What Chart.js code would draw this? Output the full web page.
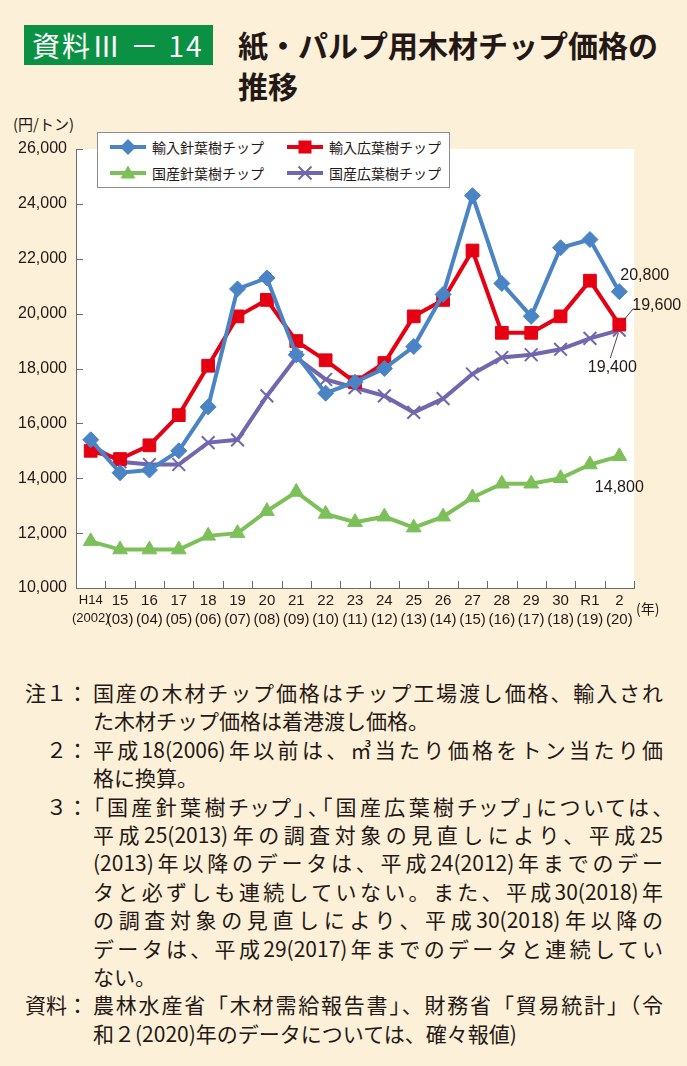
<!DOCTYPE html>
<html lang="ja">
<head>
<meta charset="utf-8">
<title>紙・パルプ用木材チップ価格の推移</title>
<script src="https://cdn.jsdelivr.net/npm/chart.js@4.4.1/dist/chart.umd.min.js"></script>
<style>
  html, body { margin: 0; padding: 0; }
  body {
    width: 687px; height: 1066px; position: relative; overflow: hidden;
    background: #fdf0d8; color: #231815;
    font-family: "Noto Sans CJK JP", sans-serif;
  }
  .badge {
    position: absolute; left: 24px; top: 25px; width: 189px; height: 40px;
    background: #0b9143; color: #fff; box-sizing: border-box; padding-left: 8px;
    font-size: 28px; line-height: 40px; letter-spacing: 2px; white-space: pre;
  }
  .title { position: absolute; left: 238px; top: 24px; font-size: 30px; font-weight: 700; line-height: 41px; }
  .unit { position: absolute; left: 13px; top: 113px; font-size: 15px; }
  #wrap { position: absolute; left: 0; top: 100px; width: 687px; height: 560px; }
  .legend {
    position: absolute; left: 97px; top: 132px; width: 353px; height: 56px;
    background: #fff; border: 1px solid #8c8c8c; box-sizing: border-box;
  }
  .item { position: absolute; display: flex; align-items: center; font-size: 14px; line-height: 18px; height: 18px; }
  .item svg { margin-right: 6px; }
  .nen { position: absolute; left: 636px; top: 598px; font-size: 14px; }
  .notes { position: absolute; left: 0; top: 678px; font-size: 21px; }
  .row { position: relative; height: 28.4px; line-height: 28.4px; }
  .lab { position: absolute; left: 0; width: 88px; text-align: right; }
  .txt { position: absolute; left: 93px; width: 570px; white-space: nowrap; }
  .full { text-align: justify; text-align-last: justify; white-space: normal; }
  .palt { font-feature-settings: "palt"; }
</style>
</head>
<body>
<div class="badge">資料Ⅲ － 14</div>
<div class="title">紙・パルプ用木材チップ価格の<br>推移</div>
<div class="unit">(円/トン)</div>
<div id="wrap"><canvas id="lineChart"></canvas></div>
<div class="legend" id="legend"></div>
<div class="nen">(年)</div>
<div class="notes" id="notes"></div>

<script>
// 年（和暦）と西暦
const years = ['H14', '15', '16', '17', '18', '19', '20', '21', '22', '23',
  '24', '25', '26', '27', '28', '29', '30', 'R1', '2'];
const westernYears = ['(2002)', '(03)', '(04)', '(05)', '(06)', '(07)', '(08)', '(09)', '(10)', '(11)',
  '(12)', '(13)', '(14)', '(15)', '(16)', '(17)', '(18)', '(19)', '(20)'];

// 円/トン
const importedSoftwood = [15400, 14200, 14300, 15000, 16600, 20900, 21300, 18500, 17100, 17500,
  18000, 18800, 20700, 24300, 21100, 19900, 22400, 22700, 20800];
const importedHardwood = [15000, 14700, 15200, 16300, 18100, 19900, 20500, 19000, 18300, 17500,
  18200, 19900, 20500, 22300, 19300, 19300, 19900, 21200, 19600];
const domesticSoftwood = [11700, 11400, 11400, 11400, 11900, 12000, 12800, 13500, 12700, 12400,
  12600, 12200, 12600, 13300, 13800, 13800, 14000, 14500, 14800];
const domesticHardwood = [15200, 14600, 14500, 14500, 15300, 15400, 17000, 18400, 17600, 17300,
  17000, 16400, 16900, 17800, 18400, 18500, 18700, 19100, 19400];

const seriesNames = ['輸入針葉樹チップ', '輸入広葉樹チップ', '国産針葉樹チップ', '国産広葉樹チップ'];
const yMin = 10000, yMax = 26000, yStep = 2000;

const colors = ['#4a84c4', '#e50012', '#7dc05a', '#7266ae'];
const styles = ['rectRot', 'rect', 'triangle', 'crossRot'];
const radii = [8, 9, 8.5, 9];

// [見出し, 本文, 両端揃え, 約物詰め]
const notes = [
  ['注１：', '国産の木材チップ価格はチップ工場渡し価格、輸入され', true, false],
  ['', 'た木材チップ価格は着港渡し価格。', false, false],
  ['２：', '平成18(2006)年以前は、㎥当たり価格をトン当たり価', true, false],
  ['', '格に換算。', false, false],
  ['３：', '「国産針葉樹チップ」、「国産広葉樹チップ」については、', true, true],
  ['', '平成25(2013)年の調査対象の見直しにより、平成25', true, false],
  ['', '(2013)年以降のデータは、平成24(2012)年までのデー', true, false],
  ['', 'タと必ずしも連続していない。また、平成30(2018)年', true, false],
  ['', 'の調査対象の見直しにより、平成30(2018)年以降の', true, false],
  ['', 'データは、平成29(2017)年までのデータと連続してい', true, false],
  ['', 'ない。', false, false],
  ['資料：', '農林水産省「木材需給報告書」、財務省「貿易統計」（令', true, false],
  ['', '和２(2020)年のデータについては、確々報値)', false, false]
];

document.getElementById('notes').innerHTML = notes.map(n =>
  `<div class="row"><span class="lab">${n[0]}</span><span class="txt${n[2] ? ' full' : ''}${n[3] ? ' palt' : ''}">${n[1]}</span></div>`
).join('');

// 凡例マーカー
const markerSvg = (i) => {
  const c = colors[i];
  let m = '';
  if (styles[i] === 'rectRot') m = `<polygon points="18,1 26,9 18,17 10,9" fill="${c}"/>`;
  if (styles[i] === 'rect') m = `<rect x="11.5" y="2.5" width="13" height="13" fill="${c}"/>`;
  if (styles[i] === 'triangle') m = `<polygon points="18,1.5 25.5,14.5 10.5,14.5" fill="${c}"/>`;
  if (styles[i] === 'crossRot') m = `<path d="M11.5 2.5 L24.5 15.5 M24.5 2.5 L11.5 15.5" stroke="${c}" stroke-width="2"/>`;
  return `<svg width="36" height="18"><line x1="0" y1="9" x2="36" y2="9" stroke="${c}" stroke-width="4"/>${m}</svg>`;
};
const legendPos = [[12, 5], [189, 5], [12, 31], [189, 31]];
document.getElementById('legend').innerHTML = seriesNames.map((name, i) =>
  `<div class="item" style="left:${legendPos[i][0]}px;top:${legendPos[i][1]}px">${markerSvg(i)}${name}</div>`
).join('');

const frame = {
  id: 'frame',
  beforeDraw(chart) {
    const { ctx, chartArea: a } = chart;
    ctx.save();
    ctx.fillStyle = '#ffffff';
    ctx.fillRect(a.left, a.top, a.right - a.left, a.bottom - a.top);
    ctx.restore();
  },
  afterDraw(chart) {
    const { ctx, chartArea: a, scales } = chart;
    ctx.save();
    ctx.strokeStyle = '#6b6b6b';
    ctx.lineWidth = 1;
    ctx.beginPath();
    scales.y.ticks.forEach((t, i) => {
      const y = Math.round(scales.y.getPixelForTick(i)) + 0.5;
      ctx.moveTo(a.left, y);
      ctx.lineTo(a.left + 7, y);
    });
    const half = (scales.x.getPixelForValue(1) - scales.x.getPixelForValue(0)) / 2;
    for (let i = 0; i <= years.length; i++) {
      const x = Math.round(scales.x.getPixelForValue(i) - half) + 0.5;
      ctx.moveTo(x, a.bottom);
      ctx.lineTo(x, a.bottom - 7);
    }
    ctx.stroke();
    ctx.restore();
  },
  afterDatasetsDraw(chart) {
    const { ctx } = chart;
    const last = years.length - 1;
    const pt = (d) => chart.getDatasetMeta(d).data[last];
    const fmt = (v) => v.toLocaleString('en-US');
    const blue = pt(0), red = pt(1), green = pt(2), purple = pt(3);
    ctx.save();
    ctx.fillStyle = '#231815';
    ctx.font = '16px "Liberation Sans"';
    ctx.textBaseline = 'middle';
    ctx.textAlign = 'left';
    ctx.fillText(fmt(importedSoftwood[last]), blue.x + 1, blue.y - 16);
    ctx.fillText(fmt(importedHardwood[last]), red.x + 13, red.y - 19);
    ctx.textAlign = 'center';
    ctx.fillText(fmt(domesticHardwood[last]), purple.x - 7, purple.y + 38);
    ctx.fillText(fmt(domesticSoftwood[last]), green.x, green.y + 31);
    ctx.strokeStyle = '#231815';
    ctx.lineWidth = 0.8;
    ctx.beginPath();
    ctx.moveTo(red.x + 5, red.y - 5);
    ctx.lineTo(red.x + 14, red.y - 16);
    ctx.moveTo(purple.x - 1, purple.y + 3);
    ctx.lineTo(purple.x - 9, purple.y + 28);
    ctx.stroke();
    ctx.restore();
  }
};

const seriesData = [importedSoftwood, importedHardwood, domesticSoftwood, domesticHardwood];

new Chart(document.getElementById('lineChart'), {
  type: 'line',
  data: {
    labels: years.map((y, i) => [y, westernYears[i]]),
    datasets: seriesData.map((d, i) => ({
      label: seriesNames[i],
      data: d,
      borderColor: colors[i],
      backgroundColor: colors[i],
      borderWidth: 4,
      tension: 0,
      pointStyle: styles[i],
      pointRadius: radii[i],
      pointHoverRadius: radii[i],
      pointBorderWidth: styles[i] === 'crossRot' ? 2 : 1,
      pointBorderColor: colors[i],
      pointBackgroundColor: colors[i]
    }))
  },
  options: {
    responsive: true,
    maintainAspectRatio: false,
    animation: false,
    layout: { padding: { top: 49, right: 53, bottom: 0, left: 0 } },
    plugins: { legend: { display: false }, tooltip: { enabled: false } },
    scales: {
      x: {
        offset: true,
        grid: { display: false, drawTicks: false },
        border: { display: true, color: '#6b6b6b', width: 1 },
        ticks: {
          color: '#231815',
          padding: 3,
          maxRotation: 0,
          autoSkip: false,
          font: (c) => ({
            family: '"Liberation Sans"',
            size: c.index === 0 ? 13 : 15,
            lineHeight: c.index === 0 ? 1.43 : 1.3
          })
        },
        afterFit: (s) => { s.height = 72; }
      },
      y: {
        min: yMin,
        max: yMax,
        grid: { display: false, drawTicks: false },
        border: { display: true, color: '#6b6b6b', width: 1 },
        ticks: {
          stepSize: yStep,
          color: '#231815',
          padding: 9,
          font: { family: '"Liberation Sans"', size: 16 },
          callback: (v) => v.toLocaleString('en-US')
        },
        afterFit: (s) => { s.width = 76; }
      }
    }
  },
  plugins: [frame]
});
</script>
</body>
</html>
